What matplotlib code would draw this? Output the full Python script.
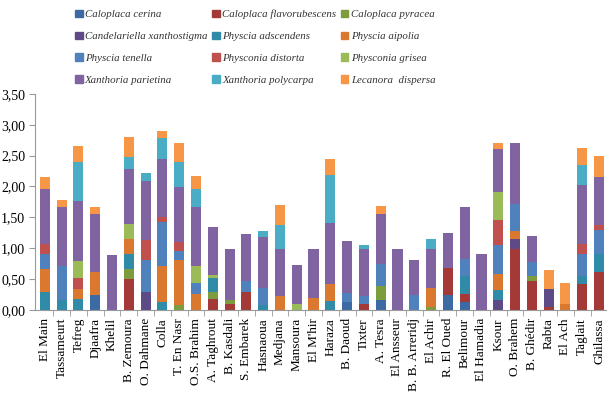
import numpy as np
import matplotlib
matplotlib.use("Agg")
import matplotlib.pyplot as plt
from matplotlib.patches import Patch

# Stations (axe des abscisses)
sites = ["El Main", "Tassameurt", "Tefreg", "Djaafra", "Khelil",
         "B. Zemoura", "O. Dahmane", "Colla", "T. En Nasr", "O.S. Brahim",
         "A. Taghrout", "B. Kasdali", "S. Embarek", "Hasnaoua", "Medjana",
         "Mansoura", "El M'hir", "Haraza", "B. Daoud", "Tixter",
         "A. Tesra", "El Ansseur", "B. B. Arreridj", "El Achir", "R. El Oued",
         "Belimour", "El Hamadia", "Ksour", "O. Brahem", "B. Ghédir",
         "Rabta", "El Ach", "Taglait", "Ghilassa"]

species = ["Caloplaca cerina", "Caloplaca flavorubescens", "Caloplaca pyracea",
           "Candelariella xanthostigma", "Physcia adscendens", "Physcia aipolia",
           "Physcia tenella", "Physconia distorta", "Physconia grisea",
           "Xanthoria parietina", "Xanthoria polycarpa", "Lecanora  dispersa"]

cerina = [0, 0, 0, 0.24, 0, 0, 0, 0, 0, 0, 0, 0, 0, 0, 0, 0, 0, 0, 0.12, 0,
          0.16, 0, 0, 0, 0.24, 0.12, 0, 0, 0, 0, 0, 0, 0, 0]
flavorubescens = [0, 0, 0, 0, 0, 0.50, 0, 0, 0, 0, 0.17, 0.10, 0.29, 0, 0, 0, 0, 0, 0, 0.10,
                  0, 0, 0, 0, 0.44, 0.14, 0, 0, 0.99, 0.46, 0.05, 0, 0.42, 0.61]
pyracea = [0, 0, 0, 0, 0, 0.16, 0, 0, 0.08, 0, 0.12, 0.05, 0, 0, 0, 0, 0, 0, 0, 0,
           0.22, 0, 0, 0.04, 0, 0, 0, 0, 0, 0.09, 0, 0, 0, 0]
candelariella = [0, 0, 0, 0, 0, 0, 0.29, 0, 0, 0, 0, 0, 0, 0, 0, 0, 0, 0, 0, 0,
                 0, 0, 0, 0, 0, 0, 0, 0.16, 0.16, 0, 0.29, 0, 0, 0]
adscendens = [0.28, 0.15, 0.17, 0, 0, 0.25, 0, 0.13, 0, 0, 0.23, 0, 0, 0.08, 0, 0, 0, 0.14, 0, 0,
              0, 0, 0, 0, 0, 0.28, 0, 0.16, 0, 0, 0, 0, 0.12, 0.30]
aipolia = [0.38, 0, 0.17, 0.37, 0, 0.23, 0, 0.58, 0.72, 0.26, 0, 0, 0, 0, 0.22, 0, 0.19, 0.28, 0, 0,
           0, 0, 0, 0.31, 0, 0, 0, 0.26, 0.13, 0, 0, 0.10, 0, 0]
tenella = [0.25, 0.56, 0, 0, 0, 0, 0.51, 0.72, 0.16, 0.18, 0, 0, 0.18, 0.27, 0, 0, 0, 0, 0.15, 0.12,
           0.36, 0, 0.24, 0, 0, 0.29, 0, 0.47, 0.43, 0.22, 0, 0, 0.36, 0.38]
distorta = [0.15, 0, 0.18, 0, 0, 0, 0.33, 0.08, 0.13, 0, 0, 0, 0, 0, 0, 0, 0, 0, 0, 0,
            0, 0, 0, 0, 0, 0, 0, 0.41, 0, 0, 0, 0, 0.17, 0.09]
grisea = [0, 0, 0.27, 0, 0, 0.25, 0, 0, 0, 0.27, 0.05, 0, 0, 0, 0, 0.10, 0, 0, 0, 0,
          0, 0, 0, 0, 0, 0, 0, 0.45, 0, 0, 0, 0, 0, 0]
parietina = [0.89, 0.95, 0.97, 0.94, 0.89, 0.90, 0.95, 0.94, 0.90, 0.95,
             0.77, 0.83, 0.76, 0.83, 0.76, 0.62, 0.80, 0.99, 0.85, 0.77,
             0.82, 0.99, 0.56, 0.64, 0.56, 0.83, 0.90, 0.69, 1.00, 0.42,
             0, 0, 0.95, 0.77]
polycarpa = [0, 0, 0.63, 0, 0, 0.18, 0.13, 0.33, 0.40, 0.30, 0, 0, 0, 0.10, 0.39, 0, 0, 0.78, 0, 0.06,
             0, 0, 0, 0.15, 0, 0, 0, 0, 0, 0, 0, 0, 0.33, 0]
lecanora = [0.20, 0.12, 0.26, 0.12, 0, 0.33, 0, 0.12, 0.32, 0.21, 0, 0, 0, 0, 0.33, 0, 0, 0.25, 0, 0,
            0.12, 0, 0, 0, 0, 0, 0, 0.11, 0, 0, 0.31, 0.33, 0.27, 0.35]

colors = ["#3C6AA3", "#A33A37", "#7D9C3E", "#5E4A87", "#2F8BA8", "#D9782E",
          "#4F81BD", "#C0504D", "#9BBB59", "#8064A2", "#4BACC6", "#F79646"]

series = [cerina, flavorubescens, pyracea, candelariella, adscendens, aipolia,
          tenella, distorta, grisea, parietina, polycarpa, lecanora]

plt.rcParams['font.family'] = ['Liberation Serif', 'DejaVu Serif']

fig = plt.figure(figsize=(6.10, 4.03), dpi=100)
ax = fig.add_axes([0.057, 0.2315, 0.936, 0.5355])

x = np.arange(len(sites))
bottom = np.zeros(len(sites))
for vals, col in zip(series, colors):
    v = np.array(vals)
    ax.bar(x, v, 0.6, bottom=bottom, color=col, linewidth=0)
    bottom += v

ax.set_xlim(-0.6, len(sites) - 0.6)
ax.set_ylim(0, 3.5)
yt = np.arange(0, 3.51, 0.5)
ax.set_yticks(yt)
ax.set_yticklabels([f"{t:.2f}".replace(".", ",") for t in yt], fontsize=10)

ax.set_xticks(x)
ax.set_xticklabels(sites, rotation=90, fontsize=9.5)
ax.set_xticks(x[:-1] + 0.5, minor=True)
ax.tick_params(axis="x", which="major", length=0, pad=6)
ax.tick_params(axis="x", which="minor", length=4, color="#999999")
ax.tick_params(axis="y", length=4, color="#999999", pad=3)

for s in ["top", "right"]:
    ax.spines[s].set_visible(False)
for s in ["left", "bottom"]:
    ax.spines[s].set_color("#999999")
    ax.spines[s].set_linewidth(0.8)

# légende sur 3 colonnes, remplie ligne par ligne comme dans Excel
handles = [Patch(color=c) for c in colors]
order = [i + 3 * r for i in range(3) for r in range(4)]
leg = fig.legend([handles[i] for i in order], [species[i] for i in order],
                 ncol=3, loc="upper left", bbox_to_anchor=(0.107, 1.0),
                 frameon=False, prop={"style": "italic", "size": 7.8},
                 handlelength=0.7, handleheight=0.7, handletextpad=0.2,
                 columnspacing=0.45, labelspacing=1.12)
for t in leg.get_texts():
    t.set_color("#333333")

fig.savefig("out.png", dpi=100)
